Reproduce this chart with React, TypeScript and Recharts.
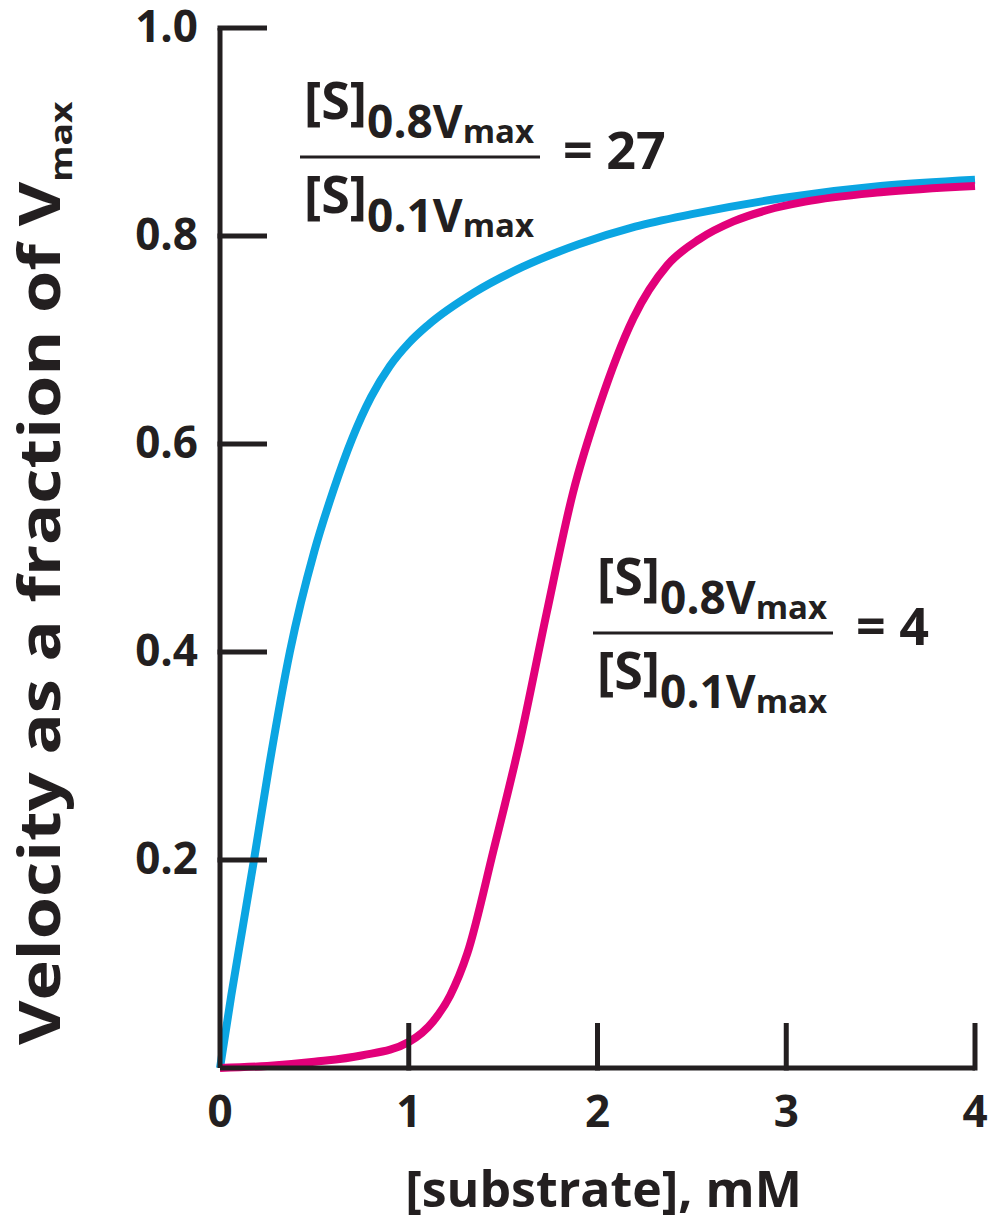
import { Line, LineChart, XAxis, YAxis } from 'recharts';

const INK = '#231f20';
const BLUE = '#0ba5e2';
const PINK = '#e2007a';
const FONT = "'Open Sans', 'DejaVu Sans', sans-serif";

// hyperbolic curve (blue)
const blueSubstrate = [0, 0.06, 0.12, 0.18, 0.26, 0.37, 0.5, 0.6, 0.7, 0.8, 0.9, 1.0, 1.1, 1.35, 1.6, 1.9, 2.2, 2.5, 3.0, 3.5, 4.0];
const blueVelocity = [0, 0.07, 0.135, 0.2, 0.29, 0.4, 0.497, 0.555, 0.605, 0.645, 0.675, 0.697, 0.714, 0.746, 0.77, 0.792, 0.809, 0.821, 0.837, 0.848, 0.854];

// sigmoidal curve (pink)
const pinkSubstrate = [0, 0.25, 0.5, 0.75, 1.0, 1.13, 1.22, 1.31, 1.45, 1.59, 1.73, 1.87, 2.01, 2.19, 2.37, 2.54, 2.72, 2.9, 3.1, 3.5, 4.0];
const pinkVelocity = [0, 0.002, 0.006, 0.012, 0.025, 0.045, 0.07, 0.11, 0.21, 0.315, 0.437, 0.553, 0.637, 0.721, 0.772, 0.797, 0.814, 0.825, 0.833, 0.842, 0.848];

const xTicks = [0, 1, 2, 3, 4];
const yTicks = [0.2, 0.4, 0.6, 0.8, 1.0];
const ratioLabels = ['27', '4'];

const blueData = blueSubstrate.map((s, i) => ({ s, v: blueVelocity[i] }));
const pinkData = pinkSubstrate.map((s, i) => ({ s, v: pinkVelocity[i] }));

const textStyle = { fontFamily: FONT, fontWeight: 700, fill: INK };

function YTick({ x, y, payload }: any) {
  return (
    <g>
      <line x1={x - 2.5} x2={x + 47} y1={y} y2={y} stroke={INK} strokeWidth={5} />
      <text x={x - 22} y={y} dy={14} textAnchor="end" fontSize={44} {...textStyle}>
        {Number(payload.value).toFixed(1)}
      </text>
    </g>
  );
}

function XTick({ x, y, payload }: any) {
  return (
    <g>
      {payload.value > 0 && (
        <line x1={x} x2={x} y1={y + 2.5} y2={y - 45} stroke={INK} strokeWidth={5} />
      )}
      <text x={x} y={y + 59} textAnchor="middle" fontSize={44} {...textStyle}>
        {payload.value}
      </text>
    </g>
  );
}

// rotated title, stretched along its baseline to the reference's length
function YTitle({ viewBox }: any) {
  const x = viewBox.x + 40;
  const y = 1045;
  return (
    <text transform={`translate(${x}, ${y}) rotate(-90) scale(1.2, 1)`} x={0} y={0} fontSize={57} {...textStyle}>
      Velocity as a fraction of V
      <tspan fontSize={31} dy={12}>max</tspan>
    </text>
  );
}

function XTitle({ viewBox }: any) {
  return (
    <text x={viewBox.x + viewBox.width / 2 + 6} y={viewBox.y + 139} textAnchor="middle" fontSize={50} {...textStyle}>
      [substrate], mM
    </text>
  );
}

// ratio [S]0.8Vmax / [S]0.1Vmax, drawn at its fraction bar
function Ratio({ x, y, value }: { x: number; y: number; value: string }) {
  const part = (base: number, sub: string) => (
    <text x={x + 4} y={base} fontSize={52} {...textStyle}>
      [S]
      <tspan fontSize={46} dy={19}>{sub}</tspan>
      <tspan fontSize={33} dy={5}>max</tspan>
    </text>
  );
  return (
    <g>
      {part(y - 38, '0.8V')}
      <line x1={x} x2={x + 240} y1={y} y2={y} stroke={INK} strokeWidth={3} />
      {part(y + 56, '0.1V')}
      <text x={x + 263} y={y + 12} fontSize={52} {...textStyle}>= {value}</text>
    </g>
  );
}

export default function App() {
  return (
    <div style={{ position: 'absolute', left: 0, top: 0, width: 990, height: 1225, background: '#fff' }}>
      <LineChart width={990} height={1225} margin={{ top: 28, right: 15, bottom: 37, left: 20 }}>
        <XAxis
          dataKey="s"
          type="number"
          domain={[0, 4]}
          ticks={xTicks}
          height={120}
          tickSize={0}
          tickMargin={0}
          tickLine={false}
          axisLine={{ stroke: INK, strokeWidth: 5 }}
          tick={<XTick />}
          label={{ content: <XTitle /> }}
          allowDuplicatedCategory={false}
        />
        <YAxis
          type="number"
          domain={[0, 1]}
          ticks={yTicks}
          width={200}
          tickSize={0}
          tickMargin={0}
          tickLine={false}
          axisLine={{ stroke: INK, strokeWidth: 5 }}
          tick={<YTick />}
          label={{ content: <YTitle /> }}
        />
        <Line data={blueData} dataKey="v" type="monotone" stroke={BLUE} strokeWidth={8} dot={false} isAnimationActive={false} />
        <Line data={pinkData} dataKey="v" type="monotone" stroke={PINK} strokeWidth={8} dot={false} isAnimationActive={false} />
      </LineChart>
      <svg width={990} height={1225} style={{ position: 'absolute', left: 0, top: 0, pointerEvents: 'none' }}>
        <Ratio x={300} y={157} value={ratioLabels[0]} />
        <Ratio x={593} y={633} value={ratioLabels[1]} />
      </svg>
    </div>
  );
}
